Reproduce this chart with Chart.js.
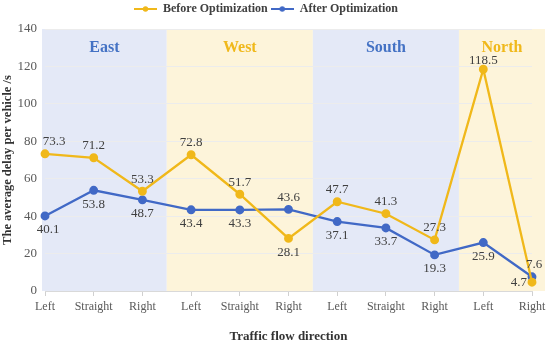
<!DOCTYPE html>
<html>
<head>
<meta charset="utf-8">
<script src="https://cdn.jsdelivr.net/npm/chart.js@4/dist/chart.umd.min.js"></script>
<style>
  html, body { margin: 0; padding: 0; background: #fff; }
  #wrap { width: 550px; height: 345px; }
</style>
</head>
<body>
<div id="wrap"><canvas id="delayChart"></canvas></div>
<script>
// data
const directions = ['Left', 'Straight', 'Right', 'Left', 'Straight', 'Right', 'Left', 'Straight', 'Right', 'Left', 'Right'];
const beforeOpt = [73.3, 71.2, 53.3, 72.8, 51.7, 28.1, 47.7, 41.3, 27.3, 118.5, 4.7];
const afterOpt = [40.1, 53.8, 48.7, 43.4, 43.3, 43.6, 37.1, 33.7, 19.3, 25.9, 7.6];
const regions = ['East', 'West', 'South', 'North'];
const regionSizes = [3, 3, 3, 2];
const yTicks = [0, 20, 40, 60, 80, 100, 120, 140];

// styles
const gold = '#F0B81A';
const blue = '#4169C6';
const regionBg = ['#E4E9F7', '#FDF4DA', '#E4E9F7', '#FDF4DA'];
const regionText = ['#4472C4', '#F0B81A', '#4472C4', '#F0B81A'];
const serif = '"Liberation Serif", "Times New Roman", serif';

// where each value label sits: [side, dx, gap]
const beforeLabelPos = [['top', 9], ['top', 0], ['top', 0], ['top', 0], ['top', 0], ['bottom', 0],
  ['top', 0], ['top', 0], ['top', 0], ['top', 0, 9], ['left', 0]];
const afterLabelPos = [['bottom', 3], ['bottom', 0], ['bottom', 0], ['bottom', 0], ['bottom', 0], ['top', 0],
  ['bottom', 0], ['bottom', 0], ['bottom', 0], ['bottom', 0], ['top', 2]];

function legendIcon(color) {
  const c = document.createElement('canvas');
  c.width = 23; c.height = 8;
  const g = c.getContext('2d');
  g.strokeStyle = color; g.lineWidth = 2;
  g.beginPath(); g.moveTo(0, 4); g.lineTo(23, 4); g.stroke();
  g.fillStyle = color;
  g.beginPath(); g.arc(11.5, 4, 2.7, 0, Math.PI * 2); g.fill();
  return c;
}

const regionPlugin = {
  id: 'regions',
  beforeDraw(chart) {
    const { ctx, scales: { x, y } } = chart;
    const top = y.getPixelForValue(140), bottom = y.getPixelForValue(0);
    let start = 0;
    ctx.save();
    regions.forEach((name, i) => {
      const end = start + regionSizes[i] - 1;
      const left = start === 0 ? x.getPixelForValue(0) - 3 : (x.getPixelForValue(start - 1) + x.getPixelForValue(start)) / 2;
      const right = end === directions.length - 1 ? x.getPixelForValue(end) + 13 : (x.getPixelForValue(end) + x.getPixelForValue(end + 1)) / 2;
      ctx.fillStyle = regionBg[i];
      ctx.fillRect(left, top, right - left, bottom - top);
      ctx.fillStyle = regionText[i];
      ctx.font = 'bold 16px ' + serif;
      ctx.textAlign = 'center';
      ctx.textBaseline = 'middle';
      ctx.fillText(name, (left + right) / 2, top + 19);
      start += regionSizes[i];
    });
    ctx.restore();
  }
};

const valueLabels = {
  id: 'valueLabels',
  afterDatasetsDraw(chart) {
    const { ctx } = chart;
    const posSets = [beforeLabelPos, afterLabelPos];
    ctx.save();
    ctx.font = '13px ' + serif;
    ctx.fillStyle = '#404040';
    chart.data.datasets.forEach((ds, di) => {
      chart.getDatasetMeta(di).data.forEach((pt, i) => {
        const [side, dx, gap] = posSets[di][i];
        let px = pt.x + dx, py = pt.y;
        ctx.textAlign = 'center';
        ctx.textBaseline = 'middle';
        if (side === 'top') py -= gap || 12;
        else if (side === 'bottom') py += gap || 14;
        else if (side === 'left') { ctx.textAlign = 'right'; px -= 5; }
        ctx.fillText(ds.data[i].toFixed(1), px, py);
      });
    });
    ctx.restore();
  }
};

// leave a few more pixels between the legend and the plot
const legendGap = {
  id: 'legendGap',
  beforeLayout(chart) {
    const lg = chart.legend;
    if (lg && !lg._gapPatched) {
      const fit = lg.fit.bind(lg);
      lg.fit = function () { fit(); this.height += 4; };
      lg._gapPatched = true;
    }
  }
};

const ctx = document.getElementById('delayChart').getContext('2d');
new Chart(ctx, {
  type: 'line',
  data: {
    labels: directions,
    datasets: [{
      label: 'Before Optimization',
      data: beforeOpt,
      borderColor: gold,
      backgroundColor: gold,
      borderWidth: 2.3,
      pointRadius: 3.3,
      tension: 0
    }, {
      label: 'After Optimization',
      data: afterOpt,
      borderColor: blue,
      backgroundColor: blue,
      borderWidth: 2.3,
      pointRadius: 3.3,
      tension: 0
    }]
  },
  options: {
    responsive: true,
    maintainAspectRatio: false,
    animation: false,
    layout: { padding: { left: 0, right: 18, top: 0, bottom: 0 } },
    plugins: {
      tooltip: { enabled: false },
      legend: {
        position: 'top',
        labels: {
          usePointStyle: true,
          pointStyleWidth: 23,
          boxHeight: 8,
          padding: 3,
          color: '#404040',
          font: { family: serif, size: 12, weight: 'bold' },
          generateLabels(chart) {
            const items = Chart.defaults.plugins.legend.labels.generateLabels(chart);
            items.forEach((it, i) => { it.pointStyle = legendIcon(chart.data.datasets[i].borderColor); });
            return items;
          }
        }
      }
    },
    scales: {
      x: {
        offset: false,
        grid: { drawOnChartArea: false, drawTicks: true, tickLength: 5, color: '#d0d0d0' },
        border: { color: '#d9d9d9' },
        ticks: { color: '#595959', font: { family: serif, size: 12 }, padding: 4, maxRotation: 0, autoSkip: false },
        title: { display: true, text: 'Traffic flow direction', color: '#333', font: { family: serif, size: 13, weight: 'bold' }, padding: { top: 10, bottom: 1 } }
      },
      y: {
        min: 0,
        max: 140,
        afterBuildTicks(scale) { scale.ticks = yTicks.map(v => ({ value: v })); },
        afterFit(scale) { scale.width = 45; },
        grid: { color: '#ececec', drawTicks: false },
        border: { display: false },
        ticks: { color: '#595959', font: { family: serif, size: 13 }, padding: 8 },
        title: { display: true, text: 'The average delay per vehicle /s', color: '#333', font: { family: serif, size: 12.5, weight: 'bold' }, padding: { top: 0, bottom: 2 } }
      }
    }
  },
  plugins: [legendGap, regionPlugin, valueLabels]
});
</script>
</body>
</html>
